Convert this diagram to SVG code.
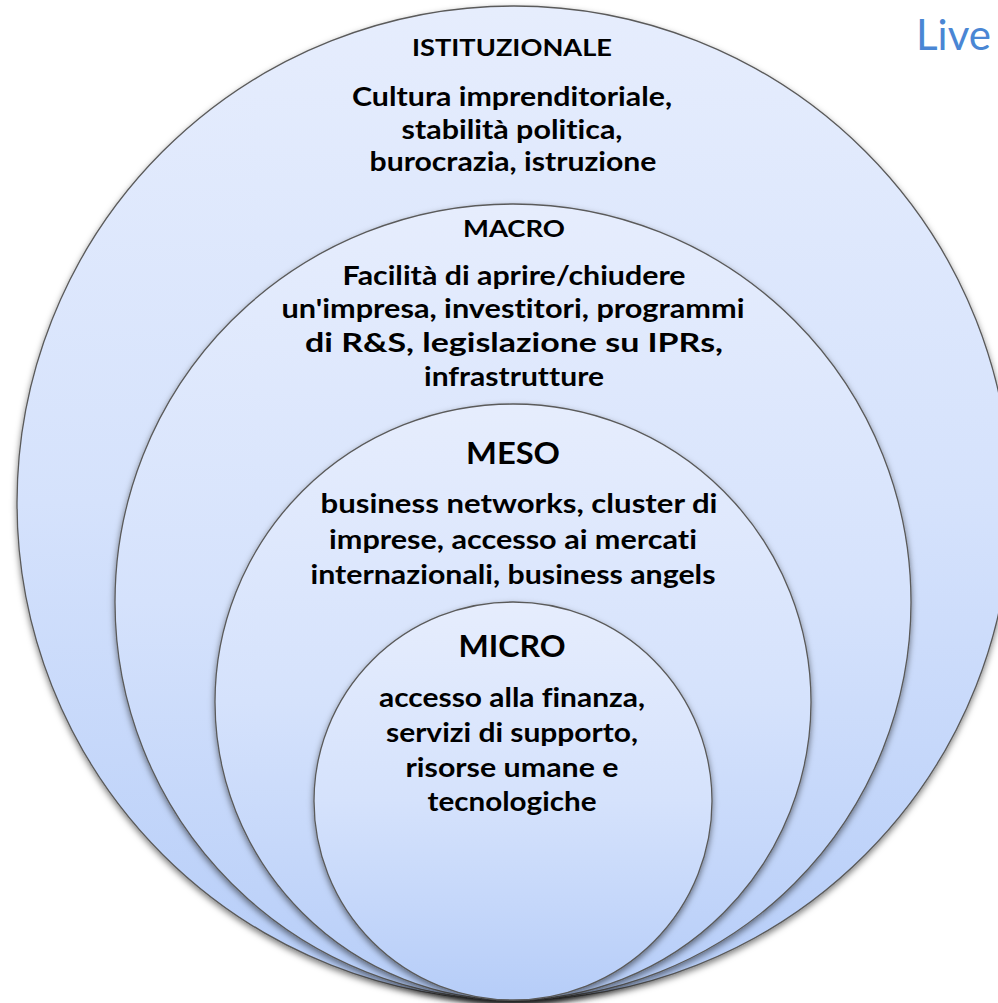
<svg xmlns="http://www.w3.org/2000/svg" width="998" height="1003" viewBox="0 0 998 1003">
<defs>
<linearGradient id="g" x1="0" y1="0" x2="0" y2="1">
<stop offset="0" stop-color="#e6edfd"/>
<stop offset="0.5" stop-color="#d5e2fc"/>
<stop offset="1" stop-color="#b6cdf8"/>
</linearGradient>
<filter id="sh" x="-10%" y="-10%" width="120%" height="120%">
<feDropShadow dx="0" dy="3" stdDeviation="3" flood-color="#000" flood-opacity="0.5"/>
</filter>
<style>
.c{fill:url(#g);stroke:#5a5a5a;stroke-width:1.3;filter:url(#sh)}
.t{font-family:Lato,"Liberation Sans",sans-serif;font-weight:bold;fill:#000;text-anchor:middle;font-variant-ligatures:none;font-feature-settings:"liga" 0,"clig" 0,"dlig" 0}
.h{font-size:22px}
.H{font-size:30px}
.b{font-size:26px}
</style>
</defs>
<rect width="998" height="1003" fill="#fff"/>
<text x="916" y="50" font-family="Lato,'Liberation Sans',sans-serif" font-size="42" fill="#4a86d4">Live</text>
<g id="istituzionale">
<circle class="c" cx="514" cy="503" r="497"/>
<text class="t h" x="512" y="56" textLength="200" lengthAdjust="spacingAndGlyphs">ISTITUZIONALE</text>
<text class="t b" x="512" y="106" textLength="320" lengthAdjust="spacingAndGlyphs">Cultura imprenditoriale,</text>
<text class="t b" x="512" y="139" textLength="221" lengthAdjust="spacingAndGlyphs">stabilità politica,</text>
<text class="t b" x="513" y="171" textLength="287" lengthAdjust="spacingAndGlyphs">burocrazia, istruzione</text>
</g>
<g id="macro">
<circle class="c" cx="513" cy="602" r="398"/>
<text class="t h" x="514" y="237" textLength="102" lengthAdjust="spacingAndGlyphs">MACRO</text>
<text class="t b" x="514" y="285" textLength="343" lengthAdjust="spacingAndGlyphs">Facilità di aprire/chiudere</text>
<text class="t b" x="513" y="318" textLength="463" lengthAdjust="spacingAndGlyphs">un'impresa, investitori, programmi</text>
<text class="t b" x="514" y="352" textLength="418" lengthAdjust="spacingAndGlyphs">di R&amp;S, legislazione su IPRs,</text>
<text class="t b" x="514" y="386" textLength="180" lengthAdjust="spacingAndGlyphs">infrastrutture</text>
</g>
<g id="meso">
<circle class="c" cx="513" cy="702" r="298"/>
<text class="t H" x="513" y="464" textLength="94" lengthAdjust="spacingAndGlyphs">MESO</text>
<text class="t b" x="519" y="513" textLength="397" lengthAdjust="spacingAndGlyphs">business networks, cluster di</text>
<text class="t b" x="513" y="549" textLength="368" lengthAdjust="spacingAndGlyphs">imprese, accesso ai mercati</text>
<text class="t b" x="513" y="584" textLength="405" lengthAdjust="spacingAndGlyphs">internazionali, business angels</text>
</g>
<g id="micro">
<circle class="c" cx="513" cy="801" r="199"/>
<text class="t H" x="512" y="657" textLength="107" lengthAdjust="spacingAndGlyphs">MICRO</text>
<text class="t b" x="512" y="707" textLength="266" lengthAdjust="spacingAndGlyphs">accesso alla finanza,</text>
<text class="t b" x="512" y="742" textLength="252" lengthAdjust="spacingAndGlyphs">servizi di supporto,</text>
<text class="t b" x="512" y="777" textLength="213" lengthAdjust="spacingAndGlyphs">risorse umane e</text>
<text class="t b" x="512" y="811" textLength="169" lengthAdjust="spacingAndGlyphs">tecnologiche</text>
</g>
<g id="connectors"/>
</svg>
